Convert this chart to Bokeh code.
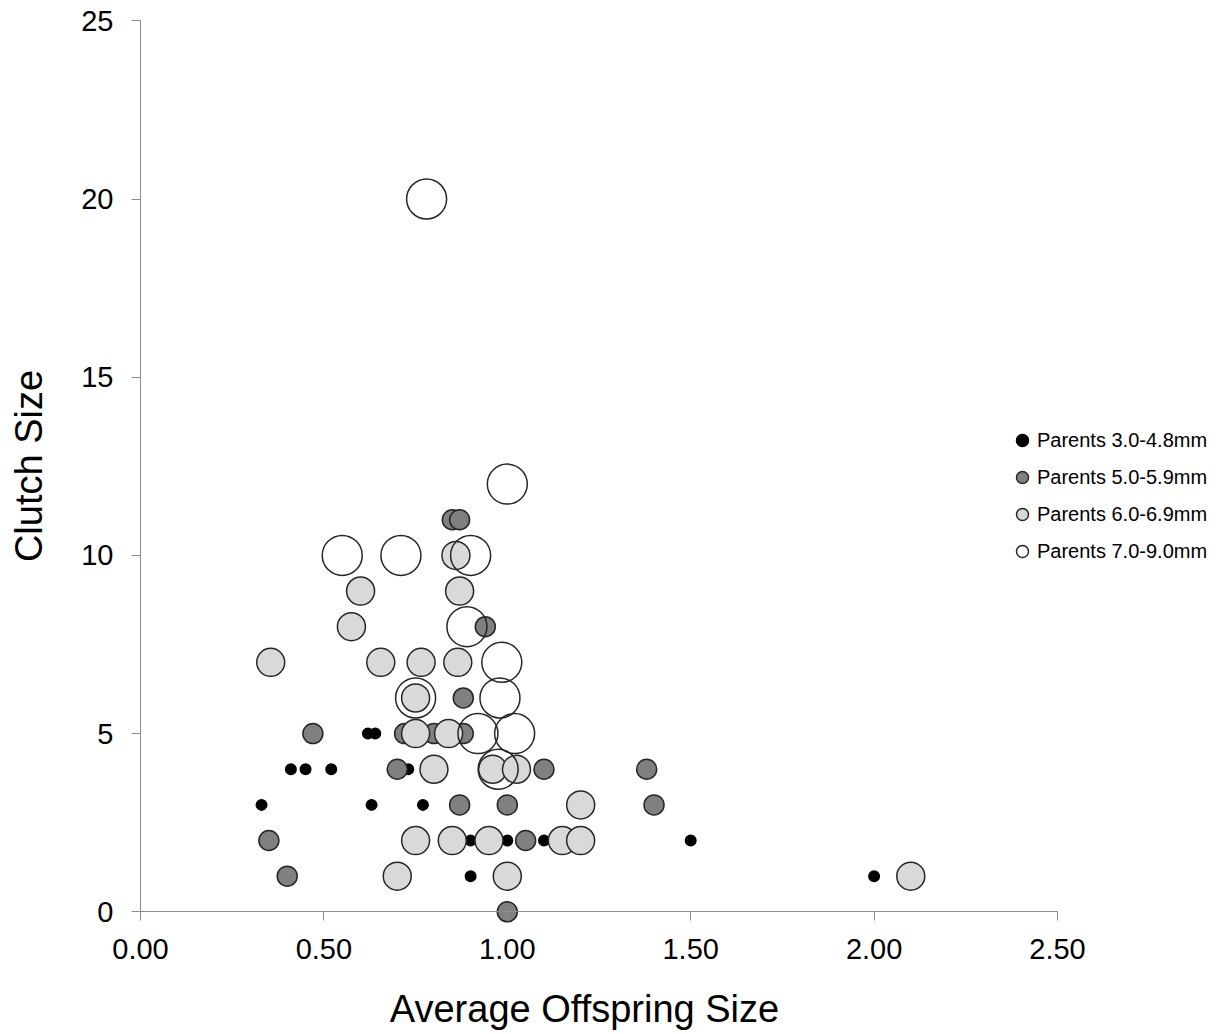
from bokeh.plotting import figure
from bokeh.models import Range1d, Legend, LegendItem, NumeralTickFormatter, FixedTicker, Label
from bokeh.embed import file_html
from bokeh.resources import INLINE

# Parents 3.0-4.8mm
g1_x = [0.62, 0.64, 0.41, 0.45, 0.52, 0.73, 0.33, 0.63, 0.77, 0.90, 1.00, 1.10, 1.50, 0.90, 2.00]
g1_y = [5, 5, 4, 4, 4, 4, 3, 3, 3, 2, 2, 2, 2, 1, 1]

# Parents 5.0-5.9mm
g2_x = [0.85, 0.87, 0.94, 0.88, 0.47, 0.72, 0.80, 0.88, 0.70, 1.10, 1.38, 0.87, 1.00, 1.40, 0.35, 1.05, 0.40, 1.00]
g2_y = [11, 11, 8, 6, 5, 5, 5, 5, 4, 4, 4, 3, 3, 3, 2, 2, 1, 0]

# Parents 6.0-6.9mm
g3_x = [0.86, 0.60, 0.87, 0.575, 0.355, 0.655, 0.765, 0.865, 0.75, 0.75, 0.84, 0.80, 0.96, 1.025,
        1.20, 0.75, 0.85, 0.95, 1.15, 1.20, 0.70, 1.00, 2.10]
g3_y = [10, 9, 9, 8, 7, 7, 7, 7, 6, 5, 5, 4, 4, 4, 3, 2, 2, 2, 2, 2, 1, 1, 1]

# Parents 7.0-9.0mm
g4_x = [0.78, 1.00, 0.55, 0.71, 0.90, 0.89, 0.985, 0.75, 0.98, 0.92, 1.02, 0.975]
g4_y = [20, 12, 10, 10, 10, 8, 7, 6, 6, 5, 5, 4]

labels = ["Parents 3.0-4.8mm", "Parents 5.0-5.9mm", "Parents 6.0-6.9mm", "Parents 7.0-9.0mm"]
x_ticks = [0.0, 0.5, 1.0, 1.5, 2.0, 2.5]
y_ticks = [0, 5, 10, 15, 20, 25]
x_title = "Average Offspring Size"
y_title = "Clutch Size"

FONT = "Liberation Sans"
AXIS_COLOR = "#8c8c8c"
EDGE = "#262626"

W, H = 1223, 1034
# pixel placement of the axes box (style only)
X0_PX, X1_PX = 140.0, 1057.0
Y0_PX, Y1_PX = 911.3, 20.3
sx = (X1_PX - X0_PX) / 2.5
sy = (Y0_PX - Y1_PX) / 25.0
x_range = Range1d(-X0_PX / sx, 2.5 + (W - X1_PX) / sx)
y_range = Range1d(-(H - Y0_PX) / sy, 25 + Y1_PX / sy)

p = figure(width=W, height=H, output_backend="svg", toolbar_location=None,
           x_range=x_range, y_range=y_range,
           min_border_left=0, min_border_right=0, min_border_top=0, min_border_bottom=0)
p.outline_line_color = None
p.xgrid.visible = False
p.ygrid.visible = False
p.background_fill_color = "white"
p.border_fill_color = "white"

r1 = p.scatter(g1_x, g1_y, size=10.5, fill_color="#000000", line_color="#000000", line_width=1.5)
r2 = p.scatter(g2_x, g2_y, size=20, fill_color="#808080", line_color=EDGE, line_width=1.5)
r3 = p.scatter(g3_x, g3_y, size=28, fill_color="#d9d9d9", line_color=EDGE, line_width=1.5)
r4 = p.scatter(g4_x, g4_y, size=40, fill_color="white", fill_alpha=0.0, line_color=EDGE, line_width=1.5)

for ax in (p.xaxis[0], p.yaxis[0]):
    ax.axis_line_color = AXIS_COLOR
    ax.major_tick_line_color = AXIS_COLOR
    ax.minor_tick_line_color = None
    ax.major_tick_in = 0
    ax.major_tick_out = 9
    ax.major_label_text_font = FONT
    ax.major_label_text_font_size = "29px"
    ax.major_label_text_color = "black"
    ax.major_label_standoff = 18
    ax.axis_label_text_font = FONT
    ax.axis_label_text_font_size = "38px"
    ax.axis_label_text_font_style = "normal"
    ax.axis_label_text_color = "black"

p.xaxis[0].fixed_location = 0
p.xaxis[0].ticker = FixedTicker(ticks=x_ticks)
p.xaxis[0].formatter = NumeralTickFormatter(format="0.00")
p.xaxis[0].bounds = (0, 2.5)

p.yaxis[0].fixed_location = 0
p.yaxis[0].ticker = FixedTicker(ticks=y_ticks)
p.yaxis[0].axis_label = y_title
p.yaxis[0].axis_label_standoff = 28
p.yaxis[0].bounds = (0, 25)

p.add_layout(Label(x=584, y=26, x_units="screen", y_units="screen", text=x_title,
                   text_align="center", text_baseline="alphabetic", text_font=FONT,
                   text_font_size="38px", text_color="black"))

legend = Legend(items=[LegendItem(label=labels[i], renderers=[r]) for i, r in enumerate([r1, r2, r3, r4])],
                location=(1007, 468), orientation="vertical",
                glyph_width=30, glyph_height=30, spacing=7, padding=0, margin=0,
                label_standoff=0, label_text_font=FONT, label_text_font_size="20px",
                label_text_color="black", border_line_alpha=0, background_fill_alpha=0)
p.add_layout(legend, "center")

open("out.html", "w").write(file_html(p, INLINE))
